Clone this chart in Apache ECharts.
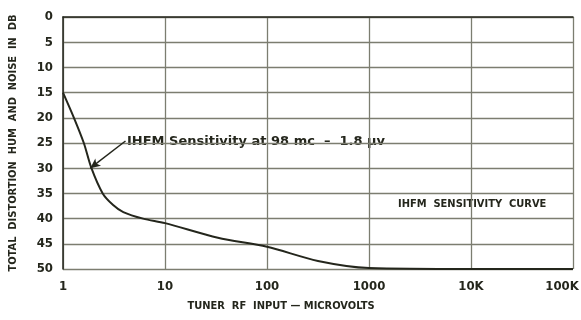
<!DOCTYPE html>
<html>
<head>
<meta charset="utf-8">
<script src="https://cdn.jsdelivr.net/npm/echarts@6/dist/echarts.min.js"></script>
<style>
  html, body { margin: 0; padding: 0; background: #fff; }
  #sens { width: 581px; height: 320px; }
</style>
</head>
<body>
<div id="sens"></div>
<script>
// tuner RF input (microvolts) and distortion (dB)
const inputUv = [1, 1.28, 1.6, 1.9, 2.45, 3.1, 3.9, 6.1, 10, 33, 100, 316, 1000, 10000, 100000]
const distortionDb = [15, 20, 25, 30, 35, 37.3, 38.7, 40, 40.9, 43.8, 45.6, 48.4, 49.8, 50, 50]
const xTickLabels = { 1: '1', 10: '10', 100: '100', 1000: '1000', 10000: '10K', 100000: '100K' }
// arrow from the note down to the 1.8 uv point on the curve
const noteFrom = [4.1, 24.6]
const noteTo = [1.85, 30]

const condensed = "'Liberation Sans Narrow', 'DejaVu Sans Condensed', sans-serif"
const ink = '#24261c'
const gridCol = '#7c7d70'

let myChart = echarts.init(document.getElementById('sens'))
myChart.setOption({
  animation: false,
  backgroundColor: '#fff',
  grid: { left: 63, right: 8, top: 17, bottom: 51, outerBoundsMode: 'none' },
  xAxis: {
    type: 'log',
    logBase: 10,
    min: 1,
    max: 100000,
    name: 'TUNER  RF  INPUT — MICROVOLTS',
    nameLocation: 'middle',
    nameGap: 32,
    nameTextStyle: {
      fontFamily: condensed,
      fontWeight: 'bold',
      fontSize: 11,
      color: ink,
      padding: [0, 74, 0, 0]
    },
    axisLine: { lineStyle: { color: ink, width: 1.5 } },
    axisTick: { show: false },
    axisLabel: {
      margin: 11,
      fontFamily: condensed,
      fontWeight: 'bold',
      fontSize: 13,
      color: ink,
      formatter: v => {
        let r = Math.round(v)
        // last label sits just inside the right edge
        if (r === 100000) return '{edge|' + xTickLabels[r] + '}'
        return xTickLabels[r] || ''
      },
      rich: {
        edge: {
          fontFamily: condensed,
          fontWeight: 'bold',
          fontSize: 13,
          color: ink,
          padding: [0, 22, 0, 0]
        }
      }
    },
    splitLine: { show: true, lineStyle: { color: gridCol, width: 1.3 } },
    minorSplitLine: { show: false }
  },
  yAxis: {
    type: 'value',
    inverse: true,
    min: 0,
    max: 50,
    interval: 5,
    name: 'TOTAL  DISTORTION  HUM  AND  NOISE  IN  DB',
    nameLocation: 'middle',
    nameGap: 44,
    nameTextStyle: { fontFamily: condensed, fontWeight: 'bold', fontSize: 11, color: ink },
    axisLine: { show: true, lineStyle: { color: ink, width: 1.5 } },
    axisTick: { show: false },
    axisLabel: {
      margin: 10,
      fontFamily: condensed,
      fontWeight: 'bold',
      fontSize: 13,
      color: ink
    },
    splitLine: { show: true, lineStyle: { color: gridCol, width: 1.3 } }
  },
  series: [
    {
      name: 'sensitivity',
      type: 'line',
      smooth: 0.3,
      symbol: 'none',
      lineStyle: { color: ink, width: 2 },
      data: inputUv.map((x, i) => [x, distortionDb[i]]),
      markLine: {
        silent: true,
        symbol: ['none', 'arrow'],
        symbolSize: [7, 10],
        label: { show: false },
        lineStyle: { color: ink, width: 1.5, type: 'solid', curveness: 0.15 },
        data: [[{ coord: noteFrom }, { coord: noteTo }]]
      }
    }
  ],
  graphic: [
    {
      type: 'text',
      left: 125,
      top: 134,
      style: {
        text: 'IHFM Sensitivity at 98 mc  –  1.8 μv',
        font: "bold 13px 'DejaVu Sans', sans-serif",
        fill: ink,
        backgroundColor: '#fff',
        padding: [1, 2]
      }
    },
    {
      type: 'text',
      left: 398,
      top: 199,
      style: {
        text: 'IHFM  SENSITIVITY  CURVE',
        font: "bold 11px " + condensed,
        fill: ink
      }
    }
  ]
})
</script>
</body>
</html>
